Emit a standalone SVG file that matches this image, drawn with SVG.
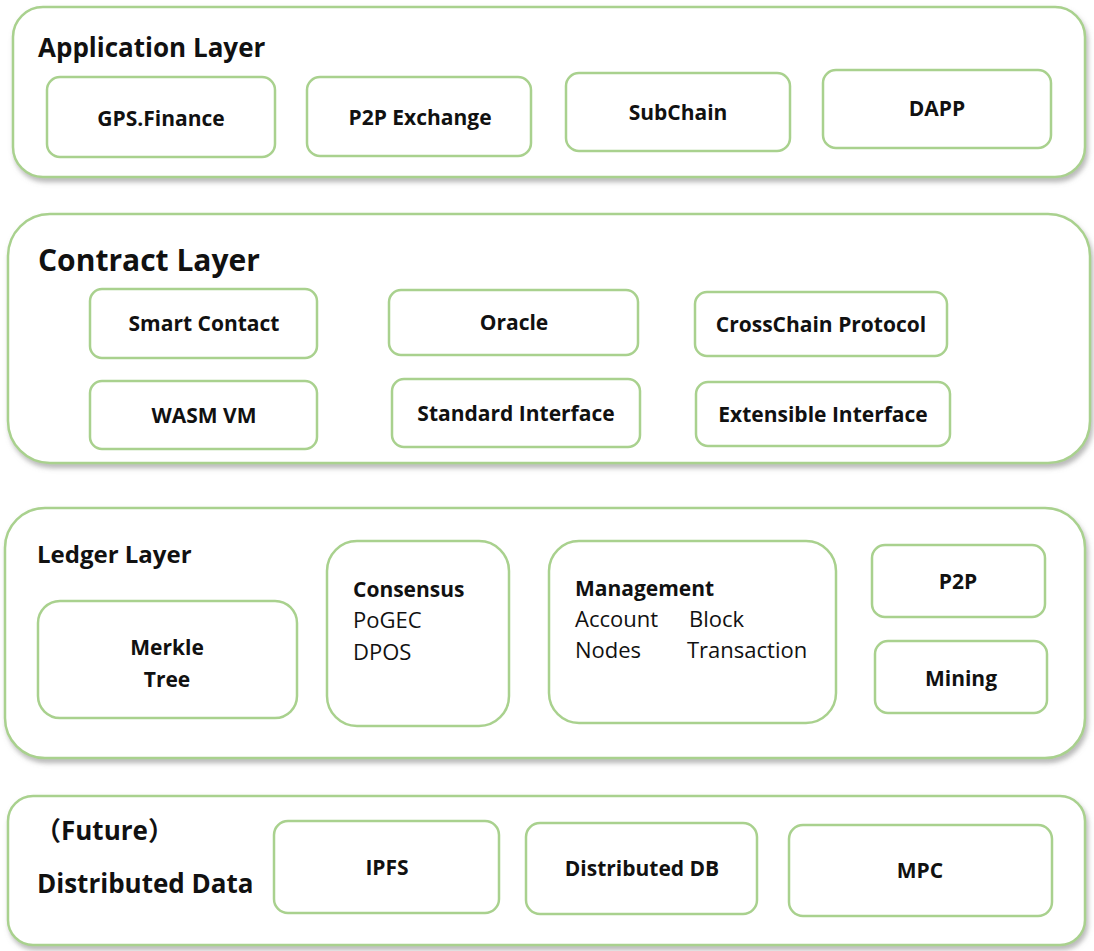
<svg xmlns="http://www.w3.org/2000/svg" width="1094" height="951" viewBox="0 0 1094 951">
<defs>
<filter id="sh" x="-5%" y="-10%" width="110%" height="125%">
<feDropShadow dx="2" dy="4" stdDeviation="2.5" flood-color="#7f7f7f" flood-opacity="0.55"/>
</filter>
</defs>
<style>
.layer{fill:#ffffff;stroke:#a9d18e;stroke-width:2.5;filter:url(#sh)}
.box{fill:#ffffff;stroke:#a9d18e;stroke-width:2.5}
text{font-family:"Open Sans","Noto Sans","Noto Sans CJK SC",sans-serif;fill:#111111}
.t{font-weight:bold;font-size:26px}
.n{font-weight:bold;font-size:21px;text-anchor:middle}
.b{font-weight:bold;font-size:21px}
.r{font-size:22px}
</style>
<rect width="1094" height="951" fill="#ffffff"/>

<g id="application-layer">
<rect class="layer" x="13" y="7" width="1072" height="170" rx="30"/>
<text class="t" x="38" y="57">Application Layer</text>
</g>
<g id="gps-finance"><rect class="box" x="47" y="77" width="228" height="80" rx="13"/><text class="n" x="161" y="126">GPS.Finance</text></g>
<g id="p2p-exchange"><rect class="box" x="307" y="77" width="224" height="79" rx="13"/><text class="n" x="420" y="125">P2P Exchange</text></g>
<g id="subchain"><rect class="box" x="566" y="73" width="224" height="78" rx="13"/><text class="n" x="678" y="120">SubChain</text></g>
<g id="dapp"><rect class="box" x="823" y="70" width="228" height="78" rx="13"/><text class="n" x="937" y="116">DAPP</text></g>

<g id="contract-layer">
<rect class="layer" x="8" y="214" width="1082" height="249" rx="42"/>
<text class="t" x="38" y="271" style="font-size:30px">Contract Layer</text>
</g>
<g id="smart-contact"><rect class="box" x="90" y="289" width="227" height="69" rx="12"/><text class="n" x="204" y="331">Smart Contact</text></g>
<g id="oracle"><rect class="box" x="389" y="290" width="249" height="65" rx="12"/><text class="n" x="514" y="330">Oracle</text></g>
<g id="crosschain-protocol"><rect class="box" x="695" y="292" width="252" height="64" rx="12"/><text class="n" x="821" y="332">CrossChain Protocol</text></g>
<g id="wasm-vm"><rect class="box" x="90" y="381" width="227" height="68" rx="12"/><text class="n" x="204" y="423">WASM VM</text></g>
<g id="standard-interface"><rect class="box" x="392" y="379" width="248" height="68" rx="12"/><text class="n" x="516" y="421">Standard Interface</text></g>
<g id="extensible-interface"><rect class="box" x="696" y="382" width="254" height="64" rx="12"/><text class="n" x="823" y="422">Extensible Interface</text></g>

<g id="ledger-layer">
<rect class="layer" x="5" y="508" width="1080" height="250" rx="40"/>
<text class="t" x="37" y="563" style="font-size:24px">Ledger Layer</text>
</g>
<g id="merkle-tree"><rect class="box" x="38" y="601" width="259" height="117" rx="22"/><text class="n" x="167" y="655">Merkle</text><text class="n" x="167" y="687">Tree</text></g>
<g id="consensus"><rect class="box" x="327" y="541" width="182" height="185" rx="30"/><text class="b" x="353" y="597">Consensus</text><text class="r" x="353" y="628">PoGEC</text><text class="r" x="353" y="660">DPOS</text></g>
<g id="management"><rect class="box" x="549" y="541" width="287" height="182" rx="30"/><text class="b" x="575" y="596">Management</text><text class="r" x="575" y="627">Account</text><text class="r" x="689" y="627">Block</text><text class="r" x="575" y="658">Nodes</text><text class="r" x="687" y="658">Transaction</text></g>
<g id="p2p"><rect class="box" x="872" y="545" width="173" height="72" rx="13"/><text class="n" x="958" y="589">P2P</text></g>
<g id="mining"><rect class="box" x="875" y="641" width="172" height="72" rx="13"/><text class="n" x="961" y="686">Mining</text></g>

<g id="distributed-data-layer">
<rect class="layer" x="8" y="796" width="1077" height="149" rx="25"/>
<text class="t" x="35" y="840">（Future）</text>
<text class="t" x="37" y="893">Distributed Data</text>
</g>
<g id="ipfs"><rect class="box" x="274" y="821" width="225" height="92" rx="14"/><text class="n" x="387" y="875">IPFS</text></g>
<g id="distributed-db"><rect class="box" x="526" y="823" width="231" height="91" rx="14"/><text class="n" x="642" y="876">Distributed DB</text></g>
<g id="mpc"><rect class="box" x="789" y="825" width="263" height="91" rx="14"/><text class="n" x="920" y="878">MPC</text></g>

<g id="connectors"/>
</svg>
